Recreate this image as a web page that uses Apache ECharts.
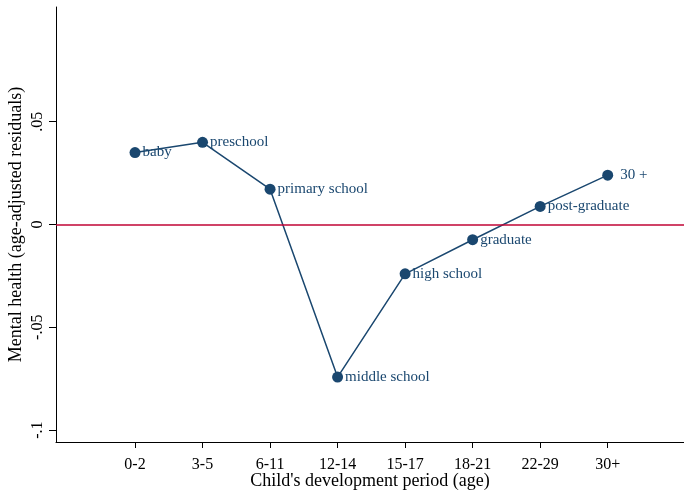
<!DOCTYPE html>
<html><head><meta charset="utf-8">
<script src="https://cdn.jsdelivr.net/npm/echarts@6/dist/echarts.min.js"></script>
<style>html,body{margin:0;padding:0;background:#fff}#c{width:684px;height:491px}</style>
</head><body><div id="c"></div>
<script>
const categories = ["0-2","3-5","6-11","12-14","15-17","18-21","22-29","30+"];
const stageLabels = ["baby","preschool","primary school","middle school","high school","graduate","post-graduate","30 +"];
const values = [0.035, 0.040, 0.0172, -0.0742, -0.0240, -0.0074, 0.0088, 0.0240];
const yTicks = [-0.1, -0.05, 0, 0.05];
const yTickLabels = ["-.1", "-.05", "0", ".05"];

const navy = "#1a476f";
const font = "Liberation Serif, Times New Roman, serif";
const pts = values.map((v, i) => ({
  value: [i + 1, v],
  label: i === values.length - 1 ? {distance: 7} : undefined
}));

const chart = echarts.init(document.getElementById('c'));
chart.setOption({
  animation: false,
  backgroundColor: '#fff',
  grid: {left: 56, top: 7, right: 0, bottom: 49, containLabel: false, outerBoundsMode: 'none'},
  xAxis: {
    type: 'value', min: -0.17, max: 9.13,
    name: "Child's development period (age)", nameLocation: 'middle', nameGap: 30, nameMoveOverlap: false,
    nameTextStyle: {fontFamily: font, fontSize: 18, color: '#000'},
    axisLine: {show: true, onZero: false, lineStyle: {color: '#000', width: 1}},
    axisTick: {show: true, length: 6, customValues: categories.map((c, i) => i + 1), lineStyle: {color: '#000'}},
    axisLabel: {customValues: categories.map((c, i) => i + 1), formatter: v => categories[Math.round(v) - 1] || '',
      fontFamily: font, fontSize: 16, color: '#000', margin: 15},
    splitLine: {show: false}
  },
  yAxis: {
    type: 'value', min: -0.1058, max: 0.1058,
    name: 'Mental health (age-adjusted residuals)', nameLocation: 'middle', nameGap: 31, nameRotate: 90, nameMoveOverlap: false,
    nameTextStyle: {fontFamily: font, fontSize: 18, color: '#000'},
    axisLine: {show: true, onZero: false, lineStyle: {color: '#000', width: 1}},
    axisTick: {show: true, length: 7, customValues: yTicks, lineStyle: {color: '#000'}},
    axisLabel: {customValues: yTicks, rotate: 90, formatter: v => yTickLabels[yTicks.findIndex(t => Math.abs(t - v) < 1e-9)] || '',
      fontFamily: font, fontSize: 16, color: '#000', margin: 10},
    splitLine: {show: false}
  },
  series: [{
    type: 'line', data: pts, symbol: 'circle', symbolSize: 11,
    lineStyle: {color: navy, width: 1.5}, itemStyle: {color: navy},
    label: {show: true, position: 'right', distance: 2, formatter: p => stageLabels[p.dataIndex],
      fontFamily: font, fontSize: 15, color: navy},
    markLine: {silent: true, symbol: 'none', label: {show: false},
      lineStyle: {color: '#c10534', width: 1.5, type: 'solid'}, data: [{yAxis: 0}]}
  }]
});
</script></body></html>
